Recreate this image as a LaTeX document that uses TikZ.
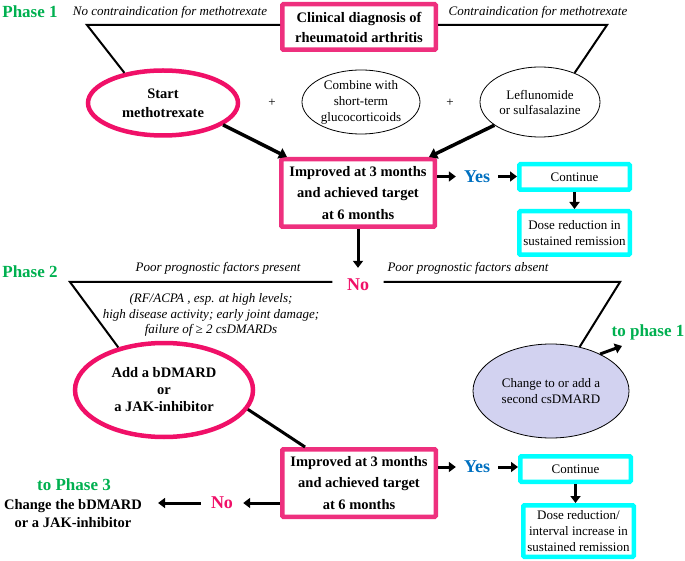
\documentclass[tikz,border=0pt]{standalone}
\usepackage{fontspec}
\setmainfont{Liberation Serif}
\usetikzlibrary{arrows.meta,shapes.geometric}
\definecolor{pkb}{RGB}{238,48,126}
\definecolor{pke}{RGB}{240,16,104}
\definecolor{cy}{RGB}{0,255,255}
\definecolor{gr}{RGB}{0,176,80}
\definecolor{bl}{RGB}{0,112,192}
\definecolor{lav}{RGB}{210,210,240}
\newcommand\bxf{\fontsize{14.5}{21.5}\selectfont\bfseries}
\newcommand\elf{\fontsize{13}{16}\selectfont}
\newcommand\myit{\fontsize{13}{15.5}\selectfont\itshape}
\newcommand\phf{\fontsize{17}{20}\selectfont\bfseries}
\newcommand\ynf{\fontsize{18}{20}\selectfont\bfseries}
\begin{document}
\begin{tikzpicture}[x=1pt,y=-1pt,
  pbox/.style={draw=pkb, line width=4.5pt, minimum width=153.5pt, minimum height=67.5pt, inner sep=0pt, align=center, font=\bxf, rounded corners=1pt},
  cbox/.style={draw=cy, line width=4.5pt, minimum width=110.5pt, inner sep=0pt, align=center, font=\elf, rounded corners=1pt},
  pell/.style={ellipse, draw=pke, line width=4.5pt, inner sep=0pt, align=center},
  tell/.style={ellipse, draw, line width=0.8pt, inner sep=0pt, align=center, font=\elf},
  lbl/.style={font=\myit, inner sep=1pt},
  phase/.style={font=\phf, text=gr, inner sep=1pt},
  yn/.style={font=\ynf, inner ysep=3pt, inner xsep=8pt},
  ln/.style={line width=2pt},
  lnT/.style={line width=3pt},
  arr/.style={line width=3pt, -{Triangle[length=7pt,width=10pt]}},
  arrT/.style={line width=3.5pt, -{Triangle[length=8pt,width=11pt]}}
]
\useasboundingbox (0,0) rectangle (685,561);
% Phase 1
\node[phase] (ph1) at (30,12) {Phase 1};
\node[lbl] (l1) at (170,12) {No contraindication for methotrexate};
\node[lbl] (l2) at (538,12) {Contraindication for methotrexate};
\node[pbox, minimum height=45.5pt, font=\fontsize{14.5}{20}\selectfont\bfseries] (clin) at (359,27) {Clinical diagnosis of\\rheumatoid arthritis};
\node[pell, minimum width=150pt, minimum height=65pt, font=\fontsize{14.5}{19}\selectfont\bfseries] (start) at (163,103) {Start\\methotrexate};
\node[font=\elf] (p1) at (272,103) {+};
\node[tell, minimum width=118pt, minimum height=64pt] (comb) at (361,102) {Combine with\\short-term\\glucocorticoids};
\node[font=\elf] (p2) at (450,103) {+};
\node[tell, minimum width=120pt, minimum height=70pt, font=\fontsize{13}{15}\selectfont] (lef) at (540,102) {Leflunomide\\or sulfasalazine};
\node[pbox] (box1) at (358,193) {Improved at 3 months\\and achieved target\\at 6 months};
\node[yn, text=bl] (yes1) at (477,176.5) {Yes};
\node[cbox, minimum height=25.5pt] (cont1) at (574.5,177) {Continue};
\node[cbox, minimum height=43.5pt, font=\fontsize{13}{15.5}\selectfont] (dose1) at (574.5,233) {Dose reduction in\\sustained remission};
\node[yn, text=pke, inner xsep=14.5pt, inner ysep=11pt] (no1) at (358,285) {No};
% Phase 2
\node[phase] (ph2) at (30,272) {Phase 2};
\node[lbl] (l3) at (218,268) {Poor prognostic factors present};
\node[lbl] (l4) at (468,268) {Poor prognostic factors absent};
\node[lbl, align=center] (l5) at (211,315) {(RF/ACPA , esp. at high levels;\\high disease activity; early joint damage;\\failure of ≥ 2 csDMARDs};
\node[pell, minimum width=178pt, minimum height=94pt, font=\fontsize{14.5}{17}\selectfont\bfseries] (bd) at (164,390) {Add a bDMARD\\or\\a JAK-inhibitor};
\node[tell, fill=lav, minimum width=156pt, minimum height=94pt] (chg) at (551,391) {Change to or add a\\second csDMARD};
\node[phase] (tp1) at (648,332) {to phase 1};
\node[pbox] (box2) at (359,483) {Improved at 3 months\\and achieved target\\at 6 months};
\node[yn, text=bl] (yes2) at (477,467) {Yes};
\node[cbox, minimum height=25.5pt] (cont2) at (575.5,469) {Continue};
\node[cbox, minimum height=51.5pt] (dose2) at (578.5,531) {Dose reduction/\\interval increase in\\sustained remission};
\node[yn, text=pke, inner xsep=10pt] (no2) at (222,503) {No};
\node[phase] (tp3) at (74,485) {to Phase 3};
\node[font=\fontsize{14.5}{18}\selectfont\bfseries, align=center, inner xsep=16pt, inner ysep=1pt] (chgb) at (73,514) {Change the bDMARD\\or a JAK-inhibitor};
% connectors
\coordinate (tl) at (87,25);
\coordinate (tr) at (607,25);
\draw[ln] (clin.west |- tl) -- (tl) -- (start.142);
\draw[ln] (clin.east |- tr) -- (tr) -- (lef.40);
\draw[arrT] (start.-20) -- ([xshift=8pt]box1.north west);
\draw[arrT] (lef.207) -- ([xshift=-8pt]box1.north east);
\draw[arr] (box1.east |- yes1) -- (yes1.west);
\draw[arr] (yes1.east) -- (cont1.west |- yes1);
\draw[arr] (cont1) -- (dose1);
\draw[arr] (box1) -- (no1);
\coordinate (pl) at (70,282);
\coordinate (pr) at (620,282);
\draw[ln] (no1.west |- pl) -- (pl) -- (bd.137);
\draw[ln] (no1.east |- pr) -- (pr) -- (chg.57);
\coordinate (tp1a) at (622,346);
\draw[arr] (chg.37) -- (tp1a);
\draw[lnT] (bd.-13) -- ([xshift=25pt]box2.north west);
\draw[arr] (box2.west |- no2) -- (no2.east);
\draw[arr] (no2.west) -- (chgb.east |- no2);
\draw[arr] (box2.east |- yes2) -- (yes2.west);
\draw[arr] (yes2.east) -- (cont2.west |- yes2);
\draw[arr] (cont2.south) -- (cont2.south |- dose2.north);
\end{tikzpicture}
\end{document}
